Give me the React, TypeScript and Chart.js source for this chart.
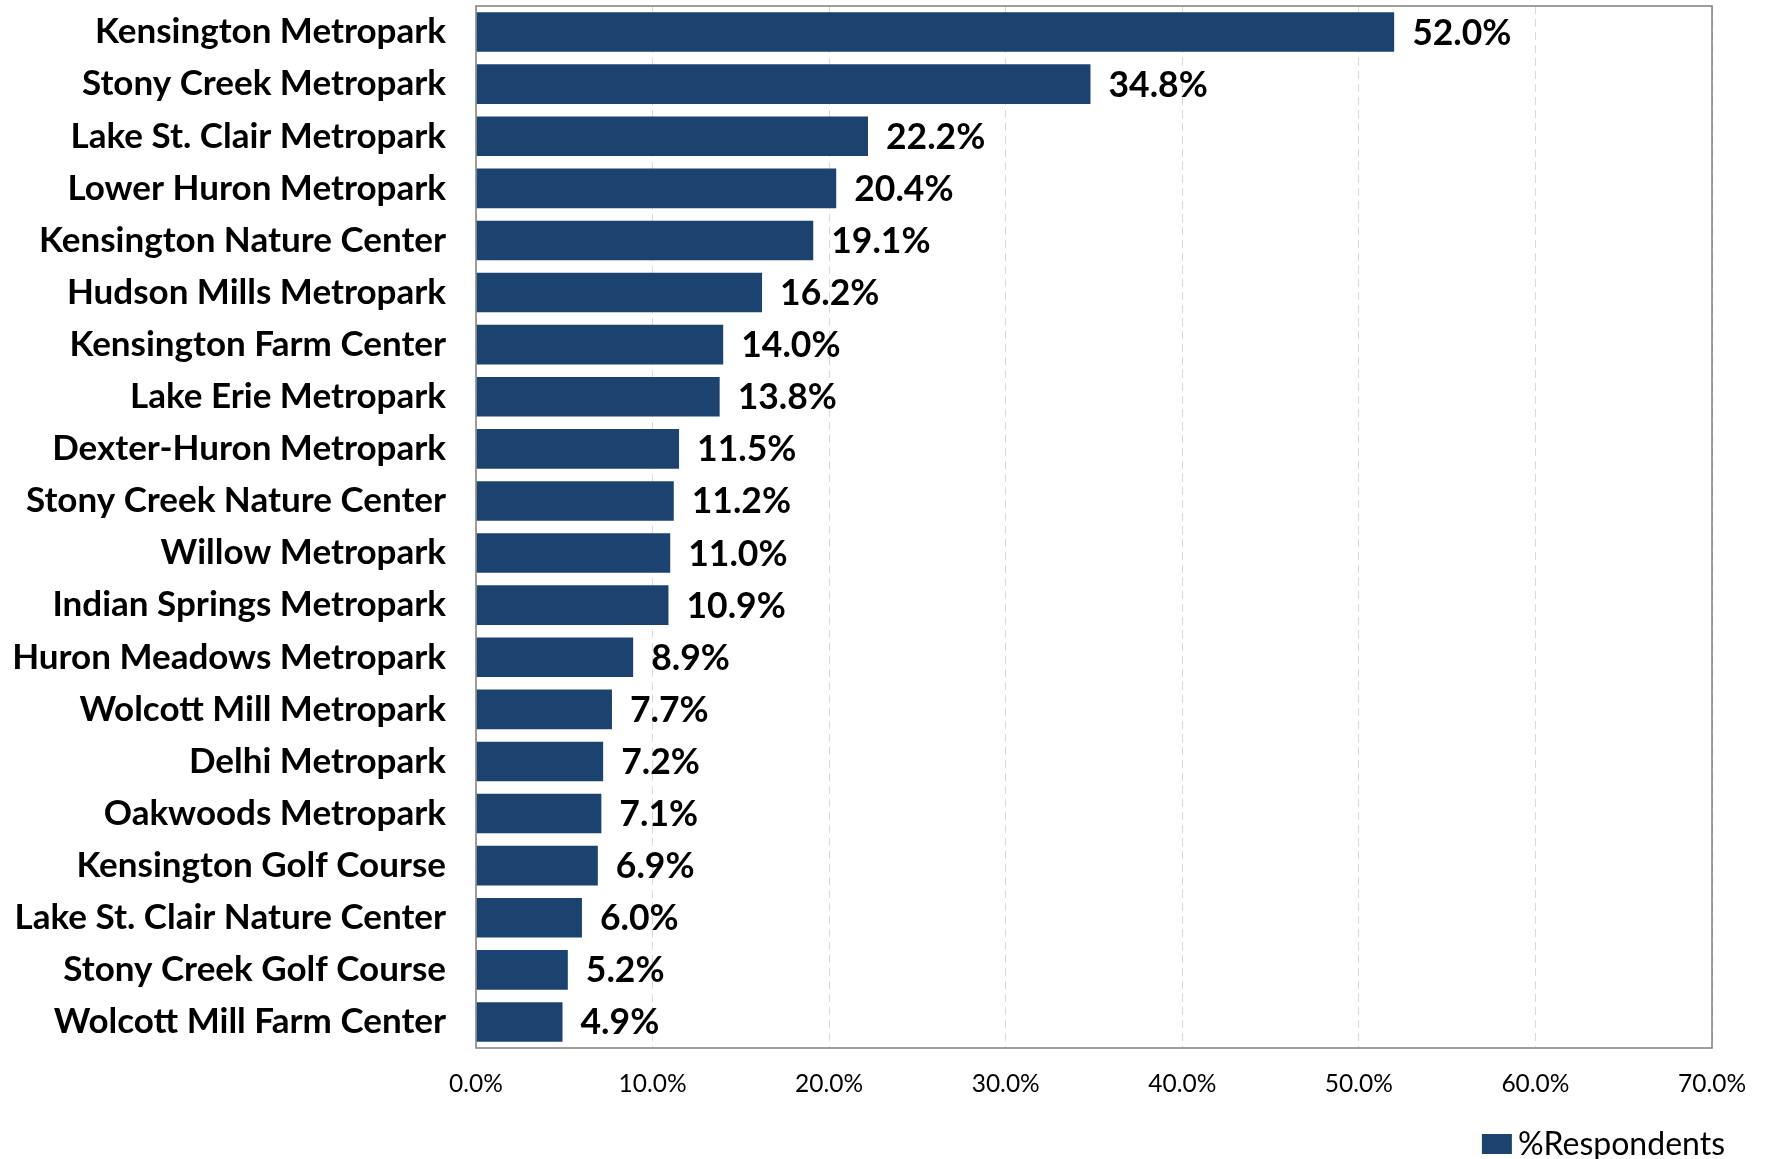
import React, { useEffect, useRef } from "react";
import { Chart, registerables } from "chart.js";

Chart.register(...registerables);

const categories = [
  "Kensington Metropark",
  "Stony Creek Metropark",
  "Lake St. Clair Metropark",
  "Lower Huron Metropark",
  "Kensington Nature Center",
  "Hudson Mills Metropark",
  "Kensington Farm Center",
  "Lake Erie Metropark",
  "Dexter-Huron Metropark",
  "Stony Creek Nature Center",
  "Willow Metropark",
  "Indian Springs Metropark",
  "Huron Meadows Metropark",
  "Wolcott Mill Metropark",
  "Delhi Metropark",
  "Oakwoods Metropark",
  "Kensington Golf Course",
  "Lake St. Clair Nature Center",
  "Stony Creek Golf Course",
  "Wolcott Mill Farm Center",
];

const respondents = [
  52.0, 34.8, 22.2, 20.4, 19.1, 16.2, 14.0, 13.8, 11.5, 11.2, 11.0, 10.9, 8.9,
  7.7, 7.2, 7.1, 6.9, 6.0, 5.2, 4.9,
];

const seriesName = "%Respondents";
const xMin = 0;
const xMax = 70;
const xStep = 10;

const FONT = "Lato, 'Open Sans', sans-serif";
const BAR_COLOR = "#1c4370";

const valueLabels = {
  id: "valueLabels",
  afterDatasetsDraw(chart: any) {
    const { ctx } = chart;
    const meta = chart.getDatasetMeta(0);
    ctx.save();
    ctx.font = `bold 35.5px ${FONT}`;
    ctx.fillStyle = "#000000";
    ctx.textAlign = "left";
    ctx.textBaseline = "middle";
    meta.data.forEach((bar: any, i: number) => {
      ctx.fillText(respondents[i].toFixed(1) + "%", bar.x + 18, bar.y + 1);
    });
    ctx.restore();
  },
};

const frame = {
  id: "frame",
  afterDatasetsDraw(chart: any) {
    const { ctx, chartArea } = chart;
    ctx.save();
    ctx.strokeStyle = "#7f7f7f";
    ctx.lineWidth = 1.5;
    ctx.strokeRect(
      chartArea.left,
      chartArea.top,
      chartArea.right - chartArea.left,
      chartArea.bottom - chartArea.top
    );
    ctx.restore();
  },
};

const customLegend = {
  id: "customLegend",
  afterDraw(chart: any) {
    const { ctx } = chart;
    const ds = chart.data.datasets[0];
    ctx.save();
    ctx.font = `32px ${FONT}`;
    ctx.textBaseline = "middle";
    ctx.textAlign = "left";
    const label = ds.label as string;
    const w = ctx.measureText(label).width;
    const textRight = chart.width - 40;
    const textLeft = textRight - w;
    const cy = 1144;
    ctx.fillStyle = ds.backgroundColor;
    ctx.fillRect(textLeft - 36, cy - 10, 30, 20);
    ctx.fillStyle = "#000000";
    ctx.fillText(label, textLeft, cy + 1);
    ctx.restore();
  },
};

export default function App() {
  const ref = useRef<HTMLCanvasElement>(null);

  useEffect(() => {
    if (!ref.current) return;
    const chart = new Chart(ref.current, {
      type: "bar",
      data: {
        labels: categories,
        datasets: [
          {
            label: seriesName,
            data: respondents,
            backgroundColor: BAR_COLOR,
            borderWidth: 0,
            barPercentage: 0.76,
            categoryPercentage: 1,
          },
        ],
      },
      options: {
        indexAxis: "y",
        animation: false,
        responsive: false,
        maintainAspectRatio: false,
        layout: { padding: { top: 6, right: 42, left: 0, bottom: 43 } },
        scales: {
          x: {
            min: xMin,
            max: xMax,
            ticks: {
              stepSize: xStep,
              color: "#000000",
              font: { family: FONT, size: 24.5 },
              padding: 21,
              callback: (v: any) => Number(v).toFixed(1) + "%",
            },
            grid: {
              color: "#d9d9d9",
              lineWidth: 1,
              drawTicks: false,
            },
            border: { display: false, dash: [8, 5] },
            afterFit: (s: any) => {
              s.height = 68;
              s.paddingRight = 53;
            },
          },
          y: {
            ticks: {
              color: "#000000",
              font: { family: FONT, size: 35, weight: "bold" },
              padding: 30,
            },
            grid: { display: false, drawTicks: false },
            border: { display: false },
            afterFit: (s: any) => {
              s.width = 476;
              s.paddingTop = 0;
              s.paddingBottom = 0;
            },
          },
        },
        plugins: {
          legend: { display: false },
          tooltip: { enabled: false },
        },
      },
      plugins: [valueLabels, frame, customLegend],
    });
    return () => chart.destroy();
  }, []);

  return (
    <div style={{ position: "absolute", left: 0, top: 0, width: 1765, height: 1159, background: "#fff" }}>
      <canvas ref={ref} width={1765} height={1159} style={{ width: 1765, height: 1159 }} />
    </div>
  );
}
